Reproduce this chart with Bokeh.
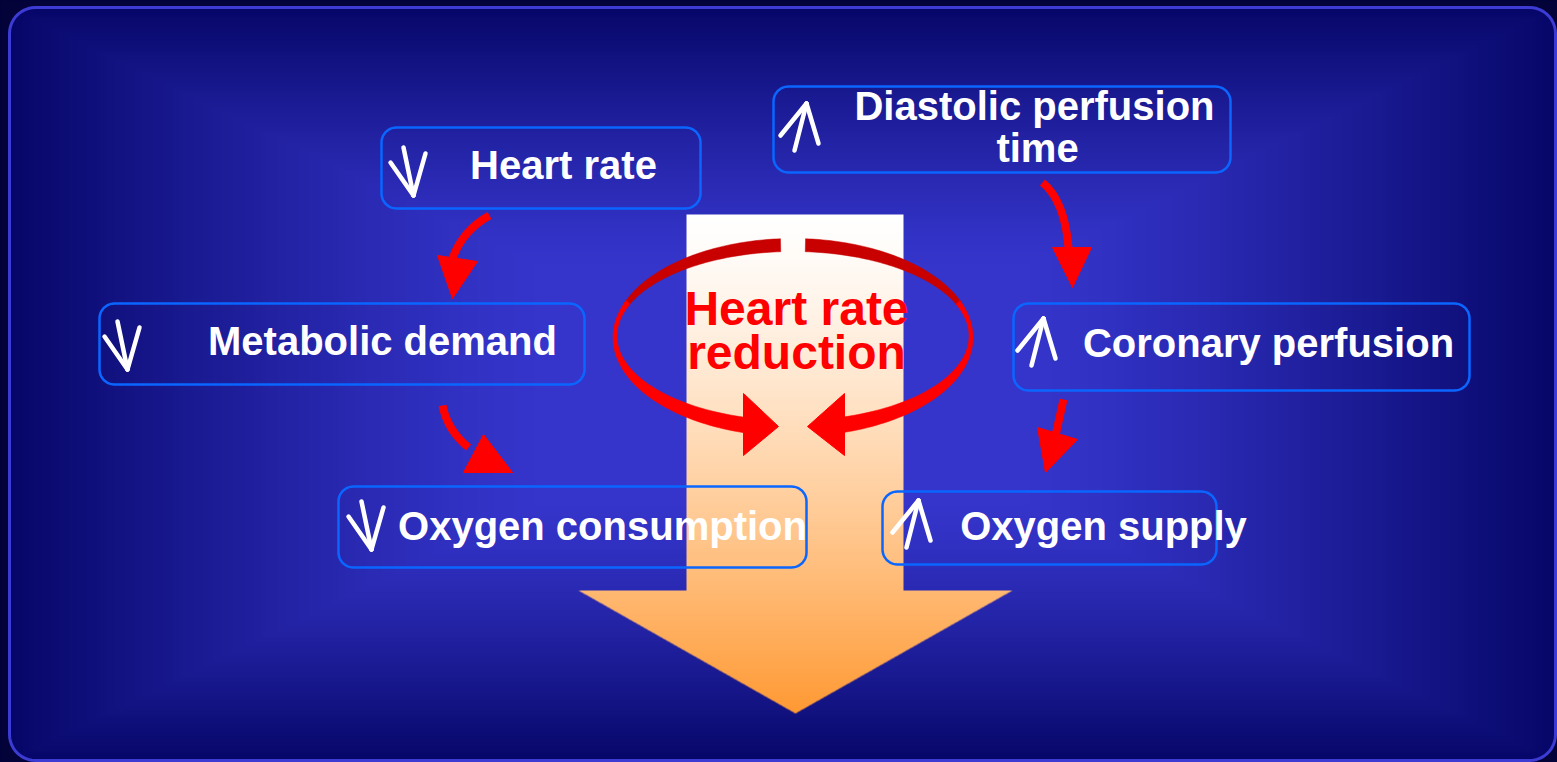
import numpy as np
from bokeh.plotting import figure
from bokeh.models import Range1d
from bokeh.core.properties import value
from bokeh.embed import file_html
from bokeh.resources import INLINE

# ---------------- content ----------------
box_lines = [
    ["Heart rate"],
    ["Diastolic perfusion", "time"],
    ["Metabolic demand"],
    ["Coronary perfusion"],
    ["Oxygen consumption"],
    ["Oxygen supply"],
]
box_trend = ["down", "up", "down", "up", "down", "up"]
center_lines = ["Heart rate", "reduction"]

# ---------------- layout (slide pixel coordinates, y downwards) ----------------
box_rects = [(381, 127, 700, 208), (773, 86, 1230, 172), (99, 303, 584, 384),
             (1013, 303, 1469, 390), (338, 486, 806, 567), (882, 491, 1216, 564)]
text_pos = [[(563, 182)], [(1034, 123), (1037, 165)], [(382, 358)],
            [(1268, 360)], [(602, 543)], [(1103, 543)]]
trend_tip = [(413, 195), (806, 103), (127, 369), (1043, 318), (371, 549), (918, 500)]
center_pos = [(796, 328), (796, 372)]
conn_curves = [((489, 215), (462, 230), (452, 258)),
               ((442, 405), (447, 430), (468, 447)),
               ((1042, 182), (1064, 200), (1068, 247)),
               ((1063, 399), (1059, 417), (1055, 435))]
conn_heads = [[(437, 255), (477, 261), (452, 298)],
              [(463, 472), (512, 472), (483, 434)],
              [(1052, 247), (1091, 247), (1072, 287)],
              [(1037, 427), (1077, 439), (1045, 472)]]

W, H = 1557, 762
p = figure(width=W, height=H, x_range=Range1d(0, W), y_range=Range1d(-H, 0),
           output_backend="svg", toolbar_location=None, x_axis_type=None, y_axis_type=None,
           min_border=0, background_fill_color="#03033a", border_fill_color="#03033a",
           outline_line_color=None)
p.grid.visible = False


def Y(v):
    return -np.asarray(v, dtype=float)


# ---------------- background: rectangular path gradient ----------------
W2, H2 = (W + 1) // 2, (H + 1) // 2
px = (np.arange(W2) + 0.5) * 2
py = (np.arange(H2) + 0.5) * 2
PX, PY = np.meshgrid(px, py)
t = np.maximum(np.abs(PX - 782) / 773, np.abs(PY - 384) / 377)
s = np.clip((t - 0.3) / 0.7, 0, 1) ** 1.3
bright = np.array([53, 53, 204], float)
edge = np.array([6, 6, 104], float)
rgb = bright + (edge - bright) * s[..., None]
R0, X0, Y0, X1, Y1 = 26, 9, 7, 1555, 760
qx = np.clip(PX, X0 + R0, X1 - R0)
qy = np.clip(PY, Y0 + R0, Y1 - R0)
inside = ((PX - qx) ** 2 + (PY - qy) ** 2 <= R0 ** 2) & (PX >= X0) & (PX <= X1) & (PY >= Y0) & (PY <= Y1)
bg = np.zeros((H2, W2, 4), dtype=np.uint8)
bg[..., :3] = np.round(rgb).astype(np.uint8)
bg[..., 3] = np.where(inside, 255, 0)
bg_img = np.flipud(bg).copy().view(np.uint32).reshape(H2, W2)
p.image_rgba(image=[bg_img], x=0, y=-2 * H2, dw=2 * W2, dh=2 * H2)


def rounded_path(x0, y0, x1, y1, r, n=12):
    xs, ys = [], []
    corners = [(x1 - r, y0 + r, -90, 0), (x1 - r, y1 - r, 0, 90),
               (x0 + r, y1 - r, 90, 180), (x0 + r, y0 + r, 180, 270)]
    for ccx, ccy, a0, a1 in corners:
        a = np.radians(np.linspace(a0, a1, n))
        xs.extend(ccx + r * np.cos(a))
        ys.extend(ccy + r * np.sin(a))
    xs.append(xs[0]); ys.append(ys[0])
    return np.array(xs), np.array(ys)


ox, oy = rounded_path(X0, Y0, X1, Y1, R0)
p.line(ox, Y(oy), line_color="#3c3cd4", line_width=3)

# ---------------- big gradient down arrow ----------------
AX0, AX1, AY0, AY1 = 578, 1012, 214, 714
aw, ah = AX1 - AX0, AY1 - AY0
cov = np.zeros((ah, aw))
for sx_ in (0.25, 0.75):
    for sy_ in (0.25, 0.75):
        xx = AX0 + np.arange(aw)[None, :] + sx_
        yy = AY0 + np.arange(ah)[:, None] + sy_
        shaft = (xx >= 686) & (xx <= 903) & (yy >= 214) & (yy <= 590)
        head = (yy >= 590) & (yy <= 713) & (np.abs(xx - 795) <= 217 * (713 - yy) / 123)
        cov += (shaft | head) * 0.25
yy = AY0 + np.arange(ah) + 0.5
tt = np.clip((yy - 214) / 499, 0, 1) ** 1.3
white = np.array([255, 255, 255], float)
orange = np.array([255, 153, 51], float)
col = white + (orange - white) * tt[:, None]
arr = np.zeros((ah, aw, 4), dtype=np.uint8)
arr[..., :3] = np.round(col[:, None, :]).astype(np.uint8)
arr[..., 3] = np.round(cov * 255).astype(np.uint8)
arr_img = np.flipud(arr).copy().view(np.uint32).reshape(ah, aw)
p.image_rgba(image=[arr_img], x=AX0, y=-AY1, dw=aw, dh=ah)

# ---------------- boxes ----------------
for (x0, y0, x1, y1) in box_rects:
    bx, by = rounded_path(x0, y0, x1, y1, 15)
    p.line(bx, Y(by), line_color="#0a66ff", line_width=2.5)

# trend arrows (hand-drawn style)
down_tpl = [((-10, -48), (0, 0)), ((-23, -33), (0, 0)), ((12, -42), (0, 0))]
up_tpl = [((-12, 47), (0, 0)), ((-26, 32), (0, 0)), ((12, 40), (0, 0))]
mx, my = [], []
for trend, (tx, ty) in zip(box_trend, trend_tip):
    tpl = down_tpl if trend == "down" else up_tpl
    for (a, b) in tpl:
        mx.append([tx + a[0], tx + b[0]])
        my.append([-(ty + a[1]), -(ty + b[1])])
p.multi_line(mx, my, line_color="white", line_width=4.5, line_cap="round")

# labels (baseline correction for the renderer)
LAB_SHIFT = 18
lx, ly, lt = [], [], []
for lines, poss in zip(box_lines, text_pos):
    for s_, (x, y) in zip(lines, poss):
        lx.append(x); ly.append(-(y - LAB_SHIFT)); lt.append(s_)
p.text(lx, ly, text=lt, text_color="white", text_font=value("Liberation Sans"),
       text_font_style="bold", text_font_size="40px", text_align="center",
       text_baseline="alphabetic")

# ---------------- connector arrows ----------------
for (s0, c0, e0) in conn_curves:
    p.quadratic(x0=[s0[0]], y0=[-s0[1]], x1=[e0[0]], y1=[-e0[1]], cx=[c0[0]], cy=[-c0[1]],
                line_color="#ff0000", line_width=8)
p.patches([[v[0] for v in h] for h in conn_heads], [[-v[1] for v in h] for h in conn_heads],
          fill_color="#ff0000", line_color="#ff0000", line_width=1)

# ---------------- ribbon ellipse ----------------
ECX = 792.5
OUT = (337.0, 180.0, 99.0)
INN = (335.5, 176.0, 84.5)


def ribbon(a0, a1, n=60):
    th = np.radians(np.linspace(a0, a1, n))
    xo = ECX + OUT[1] * np.cos(th)
    yo = OUT[0] - OUT[2] * np.sin(th)
    xi = ECX + INN[1] * np.cos(th[::-1])
    yi = INN[0] - INN[2] * np.sin(th[::-1])
    return np.concatenate([xo, xi]), np.concatenate([yo, yi])


dark_segs = [(94, 160), (20, 86)]
bright_segs = [(158, 254), (-74, 22)]
for segs, colr in ((dark_segs, "#c80000"), (bright_segs, "#ff0000")):
    xs_, ys_ = [], []
    for a0, a1 in segs:
        rx_, ry_ = ribbon(a0, a1)
        xs_.append(rx_); ys_.append(Y(ry_))
    p.patches(xs_, ys_, fill_color=colr, line_color=colr, line_width=0.5)

heads = [[(743, 393), (743, 455), (778, 426)], [(844, 393), (844, 455), (807, 426)]]
p.patches([[v[0] for v in h] for h in heads], [[-v[1] for v in h] for h in heads],
          fill_color="#ff0000", line_color="#ff0000", line_width=1)

CEN_SHIFT = 20
p.text([c[0] for c in center_pos], [-(c[1] - CEN_SHIFT) for c in center_pos], text=center_lines,
       text_color="#ff0000", text_font=value("Liberation Sans"), text_font_style="bold",
       text_font_size="48px", text_align="center", text_baseline="alphabetic")

html = file_html(p, INLINE)
html = html.replace("<head>", "<head>\n<style>html,body{background:#03033a;}</style>", 1)
open("out.html", "w").write(html)
